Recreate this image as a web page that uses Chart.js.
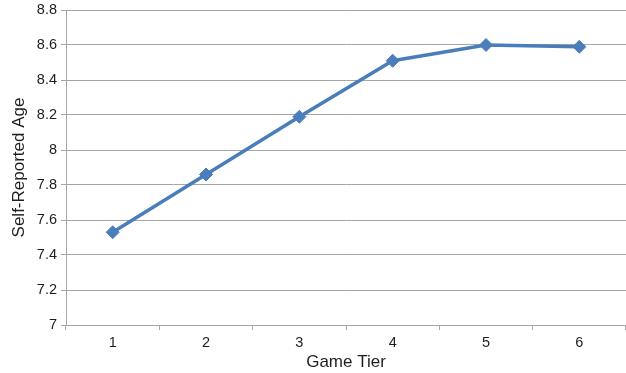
<!DOCTYPE html>
<html>
<head>
<meta charset="utf-8">
<script src="https://cdn.jsdelivr.net/npm/chart.js@4"></script>
<style>
  html, body { margin: 0; padding: 0; background: #ffffff; }
  #wrap { width: 626px; height: 373px; position: relative; }
</style>
</head>
<body>
<div id="wrap"><canvas id="chart" width="626" height="373"></canvas></div>
<script>
// Game tiers along the x axis
const tiers = ['1', '2', '3', '4', '5', '6'];
// Mean self-reported age per tier
const selfReportedAge = [7.53, 7.86, 8.19, 8.51, 8.60, 8.59];
// Value axis range
const yMin = 7;
const yMax = 8.8;
const yStep = 0.2;

const gridGray = '#a6a6a6';
const textColor = '#1e1e1e';
const lineBlue = '#4a7ebb';

// Axis boxes get fixed sizes; label overhang is not reserved
function fixBox(size, horizontal) {
  return (s) => {
    if (horizontal) { s.height = size; } else { s.width = size; }
    s.paddingTop = 0; s.paddingBottom = 0;
    s.paddingLeft = 0; s.paddingRight = 0;
  };
}

new Chart(document.getElementById('chart'), {
  type: 'line',
  data: {
    labels: tiers,
    datasets: [{
      data: selfReportedAge,
      borderColor: lineBlue,
      backgroundColor: lineBlue,
      borderWidth: 3.5,
      pointStyle: 'rectRot',
      pointRadius: 6.5,
      pointBorderWidth: 1,
      pointHoverRadius: 6.5,
      tension: 0,
      fill: false
    }]
  },
  options: {
    responsive: false,
    animation: false,
    events: [],
    layout: { autoPadding: false, padding: { left: 0, right: 0, top: 10, bottom: 0 } },
    plugins: { legend: { display: false }, tooltip: { enabled: false } },
    scales: {
      x: {
        type: 'category',
        offset: true,
        grid: {
          offset: true,
          drawOnChartArea: false,
          drawTicks: true,
          tickLength: 5,
          color: gridGray
        },
        border: { color: gridGray, width: 1 },
        ticks: { color: textColor, font: { family: 'Liberation Sans', size: 14.5 }, padding: 4, maxRotation: 0 },
        title: { display: true, text: 'Game Tier', color: textColor, font: { family: 'Liberation Sans', size: 17 }, padding: { top: 2, bottom: 0 } },
        afterFit: fixBox(48, true)
      },
      y: {
        min: yMin,
        max: yMax,
        ticks: {
          stepSize: yStep,
          color: textColor,
          font: { family: 'Liberation Sans', size: 14.5 },
          padding: 4,
          callback: (v) => Number(v.toFixed(1)).toString()
        },
        grid: { color: gridGray, lineWidth: 1, drawTicks: true, tickLength: 5 },
        border: { color: gridGray, width: 1 },
        title: { display: true, text: 'Self-Reported Age', color: textColor, font: { family: 'Liberation Sans', size: 17 }, padding: { top: 9, bottom: 4 } },
        afterFit: fixBox(66, false)
      }
    }
  }
});
</script>
</body>
</html>
